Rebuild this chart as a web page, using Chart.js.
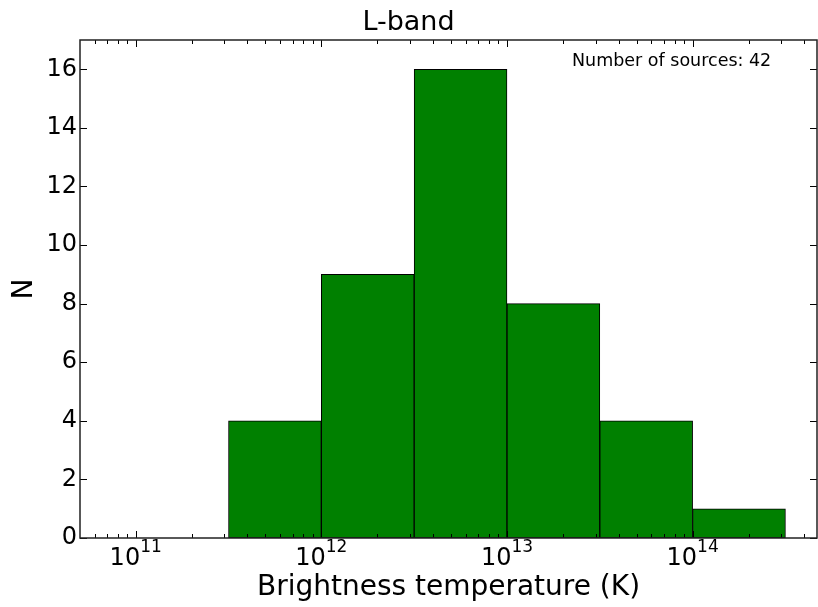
<!DOCTYPE html>
<html>
<head>
<meta charset="utf-8">
<script src="https://cdn.jsdelivr.net/npm/chart.js@4"></script>
<style>
  html, body { margin: 0; padding: 0; background: #fff; }
  canvas { display: block; }
</style>
</head>
<body>
<canvas id="histChart" width="818" height="607"></canvas>
<script>
// ===============================
// Data (x in log10 of K)
// ===============================
const binEdges = [11.5, 12, 12.5, 13, 13.5, 14, 14.5];
const counts = [4, 9, 16, 8, 4, 1];
const xTickDecades = [11, 12, 13, 14];
const yTicks = [0, 2, 4, 6, 8, 10, 12, 14, 16];
const xRange = [10.7, 14.67];
const yRange = [0, 17];

const totalSources = counts.reduce((a, b) => a + b, 0);
const barData = counts.map((c, i) => ({ x: (binEdges[i] + binEdges[i + 1]) / 2, y: c }));

const FONT = "'DejaVu Sans', sans-serif";
Chart.defaults.font.family = FONT;
Chart.defaults.color = "#000";

// ===============================
// Frame, inward ticks, labels, annotation
// ===============================
const framePlugin = {
  id: "frame",
  afterDraw(chart) {
    const { ctx, chartArea: a, scales } = chart;
    const xs = scales.x;
    const ys = scales.y;
    ctx.save();

    ctx.strokeStyle = "#000";
    ctx.lineWidth = 1;
    ctx.beginPath();
    // x major ticks
    xTickDecades.forEach((d) => {
      const px = Math.round(xs.getPixelForValue(d)) + 0.5;
      ctx.moveTo(px, a.bottom); ctx.lineTo(px, a.bottom - 7);
      ctx.moveTo(px, a.top); ctx.lineTo(px, a.top + 7);
    });
    // x minor ticks
    for (let n = Math.floor(xRange[0]); n <= Math.ceil(xRange[1]); n++) {
      for (let k = 2; k <= 9; k++) {
        const v = n + Math.log10(k);
        if (v < xRange[0] || v > xRange[1]) continue;
        const px = Math.round(xs.getPixelForValue(v)) + 0.5;
        ctx.moveTo(px, a.bottom); ctx.lineTo(px, a.bottom - 4);
        ctx.moveTo(px, a.top); ctx.lineTo(px, a.top + 4);
      }
    }
    // y major ticks
    yTicks.forEach((t) => {
      const py = Math.round(ys.getPixelForValue(t)) + 0.5;
      ctx.moveTo(a.left, py); ctx.lineTo(a.left + 7, py);
      ctx.moveTo(a.right, py); ctx.lineTo(a.right - 7, py);
    });
    ctx.stroke();

    // axes box
    ctx.strokeStyle = "#222";
    ctx.lineWidth = 1.5;
    ctx.strokeRect(a.left, a.top, a.right - a.left, a.bottom - a.top);

    // x tick labels: 10 with superscript exponent
    ctx.fillStyle = "#000";
    ctx.textBaseline = "alphabetic";
    ctx.textAlign = "left";
    xTickDecades.forEach((d) => {
      const px = xs.getPixelForValue(d);
      const base = "10";
      const exp = String(d);
      ctx.font = "24px " + FONT;
      const wBase = ctx.measureText(base).width;
      ctx.font = "17px " + FONT;
      const wExp = ctx.measureText(exp).width;
      const x0 = px - (wBase + wExp) / 2;
      ctx.font = "24px " + FONT;
      ctx.fillText(base, x0, a.bottom + 27);
      ctx.font = "17px " + FONT;
      ctx.fillText(exp, x0 + wBase, a.bottom + 14);
    });

    // annotation
    ctx.font = "17.5px " + FONT;
    ctx.fillText("Number of sources: " + totalSources, 572, 66);
    ctx.restore();
  },
};

// ===============================
// Chart
// ===============================
const ctx = document.getElementById("histChart").getContext("2d");

new Chart(ctx, {
  type: "bar",
  data: {
    datasets: [
      {
        data: barData,
        backgroundColor: "#008000",
        borderColor: "#000",
        borderWidth: 1,
        borderSkipped: false,
        barPercentage: 1,
        categoryPercentage: 1,
      },
    ],
  },
  options: {
    responsive: false,
    animation: false,
    layout: { padding: { left: 0, right: 1, top: 0, bottom: 0 } },
    plugins: {
      legend: { display: false },
      tooltip: { enabled: false },
      title: {
        display: true,
        text: "L-band",
        font: { size: 27, weight: "normal" },
        padding: { top: 6.5, bottom: 1.1 },
      },
    },
    scales: {
      x: {
        type: "linear",
        offset: false,
        min: xRange[0],
        max: xRange[1],
        grid: { display: false, drawTicks: false, offset: false },
        border: { display: false },
        afterBuildTicks: (scale) => {
          scale.ticks = xTickDecades.map((v) => ({ value: v }));
        },
        afterFit: (scale) => {
          scale.height = 69;
        },
        ticks: { display: false },
        title: {
          display: true,
          text: "Brightness temperature (K)",
          font: { size: 28 },
          padding: { top: 0, bottom: 2.7 },
        },
      },
      y: {
        min: yRange[0],
        max: yRange[1],
        grid: { display: false, drawTicks: false },
        border: { display: false },
        afterBuildTicks: (scale) => {
          scale.ticks = yTicks.map((v) => ({ value: v }));
        },
        afterFit: (scale) => {
          scale.width = 80;
        },
        ticks: {
          font: { size: 24 },
          padding: 3,
        },
        title: {
          display: true,
          text: "N",
          font: { size: 28 },
          padding: { top: 8, bottom: 0 },
        },
      },
    },
  },
  plugins: [framePlugin],
});
</script>
</body>
</html>
